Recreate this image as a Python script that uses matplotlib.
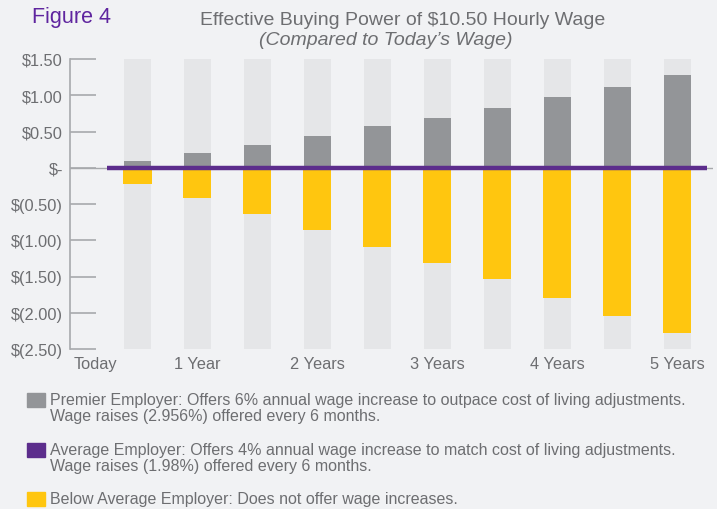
import numpy as np
import matplotlib
matplotlib.use("Agg")
from matplotlib import pyplot
from matplotlib.patches import Rectangle

# half-year steps, 0.5 .. 5 years
periods = [1, 2, 3, 4, 5, 6, 7, 8, 9, 10]
premier = [0.10, 0.21, 0.32, 0.44, 0.57, 0.69, 0.83, 0.97, 1.12, 1.28]
below_avg = [-0.22, -0.42, -0.64, -0.865, -1.09, -1.32, -1.54, -1.79, -2.04, -2.28]
average = [0.0] * 10

tick_pos = [0.3, 2, 4, 6, 8, 10]
tick_labels = ["Today", "1 Year", "2 Years", "3 Years", "4 Years", "5 Years"]
yticks = [1.5, 1.0, 0.5, 0.0, -0.5, -1.0, -1.5, -2.0, -2.5]
ylabels = ["$1.50", "$1.00", "$0.50", "$-", "$(0.50)", "$(1.00)",
           "$(1.50)", "$(2.00)", "$(2.50)"]

legend_items = [
    ("#939598", "Premier Employer: Offers 6% annual wage increase to outpace cost of living adjustments.\n"
                "Wage raises (2.956%) offered every 6 months."),
    ("#5c2d8c", "Average Employer: Offers 4% annual wage increase to match cost of living adjustments.\n"
                "Wage raises (1.98%) offered every 6 months."),
    ("#ffc60f", "Below Average Employer: Does not offer wage increases."),
]

bg = "#f1f2f4"
txt = "#6d6e71"
pyplot.rcParams["font.family"] = ["Liberation Sans", "DejaVu Sans"]

W, H = 717, 510
fig = pyplot.figure(figsize=(W / 100, H / 100), dpi=100, facecolor=bg)
ax = fig.add_axes([70 / W, (H - 350) / H, (713 - 70) / W, 290 / H])
ax.set_facecolor(bg)

ymin, ymax = -2.5, 1.5
x = np.array(periods)
# background columns
ax.bar(x, ymax - ymin, bottom=ymin, width=0.45, color="#e5e6e8", zorder=1)
ax.bar(x, premier, width=0.45, color="#939598", zorder=2)
ax.bar(x, below_avg, width=0.47, color="#ffc60f", zorder=2)
ax.axhline(0, color="#a7a9ac", lw=1, zorder=1.5)
ax.plot(np.r_[x - 0.5, x[-1] + 0.5], np.r_[average, average[-1]],
        color="#5c2d8c", lw=3.2, solid_capstyle="butt", zorder=3)

ax.set_xlim(-0.125, 10.6)
ax.set_ylim(ymin, ymax)
ax.set_yticks(yticks)
ax.set_yticklabels(ylabels)
ax.set_xticks(tick_pos)
ax.set_xticklabels(tick_labels)
ax.tick_params(axis="y", direction="in", length=19, width=1.2, color="#a7a9ac",
               labelsize=11.8, labelcolor=txt, pad=5)
ax.tick_params(axis="x", length=0, labelsize=11.8, labelcolor=txt, pad=5)
for s in ["top", "right", "bottom"]:
    ax.spines[s].set_visible(False)
ax.spines["left"].set_color("#a7a9ac")
ax.spines["left"].set_linewidth(1.2)

fig.text(32 / W, 1 - 23 / H, "Figure 4", color="#5f259f", fontsize=15.5,
         va="baseline", ha="left")
fig.text(403 / W, 1 - 25 / H, "Effective Buying Power of $10.50 Hourly Wage",
         color=txt, fontsize=14, va="baseline", ha="center")
fig.text(386 / W, 1 - 45 / H, "(Compared to Today\u2019s Wage)", color=txt,
         fontsize=14, style="italic", va="baseline", ha="center")

ys = [401, 451, 500]
for (c, label), yy in zip(legend_items, ys):
    fig.patches.append(Rectangle((27 / W, 1 - (yy + 7) / H), 18 / W, 14 / H,
                                 transform=fig.transFigure, color=c))
    fig.text(50 / W, 1 - (yy - 8) / H, label, color=txt, fontsize=11.5,
             va="top", ha="left", linespacing=1.08)

fig.savefig("out.png", dpi=100, facecolor=bg)
